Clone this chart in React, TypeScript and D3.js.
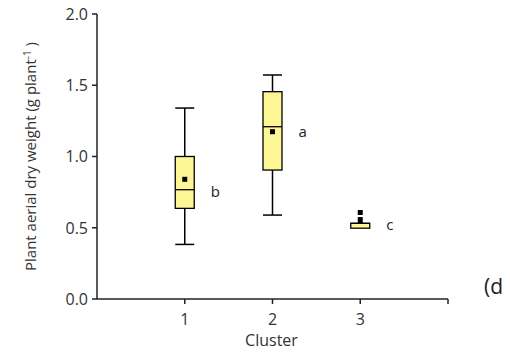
import React from 'react';
import * as d3 from 'd3';

// box stats per cluster
const clusters = [1, 2, 3];
const whiskerLow = [0.383, 0.589, 0.497];
const q1 = [0.636, 0.905, 0.497];
const median = [0.767, 1.209, 0.531];
const q3 = [1.0, 1.455, 0.531];
const whiskerHigh = [1.34, 1.572, 0.575];
const means = [0.84, 1.174, 0.607];
const groupLetters = ['b', 'a', 'c'];
const yTicks = [0, 0.5, 1.0, 1.5, 2.0];

const W = 510;
const H = 353;

export default function App() {
  const x = d3.scaleLinear().domain([0, 4]).range([97, 448]);
  const y = d3.scaleLinear().domain([0, 2]).range([299, 14]);
  const boxW = 19;
  const font = '"Open Sans", "DejaVu Sans", sans-serif';
  const axisCol = '#222';

  return (
    <svg width={W} height={H} style={{ position: 'absolute', left: 0, top: 0, background: '#fff' }}>
      {/* y axis */}
      <line x1={x(0)} x2={x(0)} y1={y(2)} y2={y(0)} stroke={axisCol} strokeWidth={1.5} />
      {yTicks.map((t) => (
        <g key={t}>
          <line x1={x(0) - 5} x2={x(0)} y1={y(t)} y2={y(t)} stroke={axisCol} strokeWidth={1.5} />
          <text x={x(0) - 9} y={y(t)} dy="0.36em" textAnchor="end" fontSize={16} fontFamily={font} fill="#333">
            {d3.format('.1f')(t)}
          </text>
        </g>
      ))}
      {/* x axis */}
      <line x1={x(0)} x2={x(4)} y1={y(0)} y2={y(0)} stroke={axisCol} strokeWidth={1.5} />
      {[...clusters, 4].map((c) => (
        <line key={c} x1={x(c)} x2={x(c)} y1={y(0)} y2={y(0) + 5} stroke={axisCol} strokeWidth={1.5} />
      ))}
      {clusters.map((c) => (
        <text key={c} x={x(c)} y={y(0) + 26} textAnchor="middle" fontSize={16} fontFamily={font} fill="#333">
          {c}
        </text>
      ))}
      <text x={(x(0) + x(4)) / 2 - 1} y={346} textAnchor="middle" fontSize={16} fontFamily={font} fill="#333">
        Cluster
      </text>
      <text
        transform={`translate(36, ${(y(0) + y(2)) / 2}) rotate(-90)`}
        textAnchor="middle"
        fontSize={15}
        fontFamily={font}
        fill="#333"
      >
        Plant aerial dry weight (g plant
        <tspan dy={-5} fontSize={10}>-1</tspan>
        <tspan dy={5}> )</tspan>
      </text>

      {/* boxes */}
      {clusters.map((c, i) => {
        const cx = x(c);
        const capW = i === 2 ? 0 : boxW;
        return (
          <g key={c}>
            <line x1={cx} x2={cx} y1={y(whiskerHigh[i])} y2={y(q3[i])} stroke="#000" strokeWidth={i === 2 ? 5 : 1.5} />
            <line x1={cx} x2={cx} y1={y(q1[i])} y2={y(whiskerLow[i])} stroke="#000" strokeWidth={1.5} />
            <line x1={cx - capW / 2} x2={cx + capW / 2} y1={y(whiskerHigh[i])} y2={y(whiskerHigh[i])} stroke="#000" strokeWidth={1.5} />
            <line x1={cx - capW / 2} x2={cx + capW / 2} y1={y(whiskerLow[i])} y2={y(whiskerLow[i])} stroke="#000" strokeWidth={1.5} />
            <rect
              x={cx - boxW / 2}
              y={y(q3[i])}
              width={boxW}
              height={Math.max(y(q1[i]) - y(q3[i]), 3)}
              fill="#fcf694"
              stroke="#000"
              strokeWidth={1.3}
            />
            <line x1={cx - boxW / 2} x2={cx + boxW / 2} y1={y(median[i])} y2={y(median[i])} stroke="#000" strokeWidth={1.3} />
            <rect x={cx - 2.5} y={y(means[i]) - 2.5} width={5} height={5} fill="#000" />
            <text x={cx + 26} y={y(median[i]) + (i === 1 ? 10 : 7)} fontSize={15} fontFamily={font} fill="#222">
              {groupLetters[i]}
            </text>
          </g>
        );
      })}
      <text x={484} y={294} fontSize={21} fontFamily={font} fill="#222">(d</text>
    </svg>
  );
}
